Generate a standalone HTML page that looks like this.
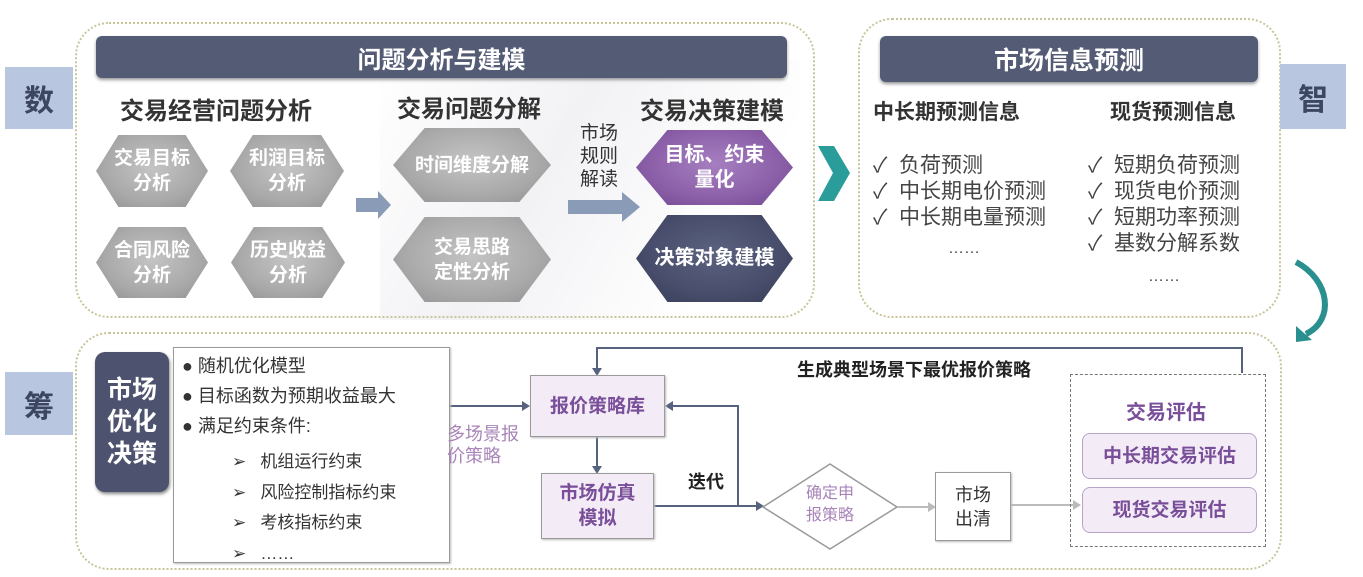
<!DOCTYPE html>
<html><head><meta charset="utf-8"><style>
*{margin:0;padding:0;box-sizing:border-box}
body{width:1363px;height:577px;background:#fff;position:relative;overflow:hidden;font-family:"Liberation Sans","Noto Sans CJK SC",sans-serif;color:#333}
.a{position:absolute}
.c{display:flex;align-items:center;justify-content:center;text-align:center}
.dot{border:2px dotted #c9c59a;border-radius:34px}
.hdr{background:#545b74;color:#fff;font-weight:bold;font-size:24px;border-radius:6px;box-shadow:0 2px 3px #999}
.side{background:#b8c7df;color:#3d4660;font-weight:bold;font-size:30px}
.ttl{font-weight:bold;font-size:24px;color:#333;white-space:nowrap}
.hex{clip-path:polygon(20% 0,80% 0,100% 50%,80% 100%,20% 100%,0 50%);color:#fff;font-weight:bold;font-size:19px;line-height:25px;background:radial-gradient(ellipse at 50% 45%,#c4c4c4 0%,#a9a9a9 60%,#8f8f8f 100%)}
.pu{background:radial-gradient(ellipse at 50% 45%,#a67fc0 0%,#8b5fa8 60%,#6e4690 100%)}
.dk{background:radial-gradient(ellipse at 50% 45%,#5b6280 0%,#474d6a 60%,#363b55 100%)}
.li{font-size:21px;color:#444;white-space:nowrap;line-height:26px}
.box{border:1.5px solid #9a9a9a;box-shadow:1px 1px 2px #bbb}
.pbox{background:#f3ecf7;color:#7a4f9a;font-weight:bold;font-size:19px;line-height:25px}
</style></head><body>
<div class="a" style="left:380px;top:60px;width:420px;height:260px;background:linear-gradient(120deg,#fff 0%,#f2f2f5 40%,#fff 80%)"></div>

<div class="a dot" style="left:75px;top:22px;width:740px;height:296px"></div>
<div class="a hdr c" style="left:96px;top:36px;width:691px;height:42px">问题分析与建模</div>
<div class="a side c" style="left:5px;top:67px;width:68px;height:62px">数</div>
<div class="a ttl" style="left:120px;top:91px">交易经营问题分析</div>
<div class="a ttl" style="left:397px;top:89px">交易问题分解</div>
<div class="a ttl" style="left:640px;top:91px">交易决策建模</div>

<div class="a hex c" style="left:96px;top:135px;width:112px;height:72px">交易目标<br>分析</div>
<div class="a hex c" style="left:230px;top:135px;width:114px;height:72px">利润目标<br>分析</div>
<div class="a hex c" style="left:96px;top:227px;width:112px;height:71px">合同风险<br>分析</div>
<div class="a hex c" style="left:231px;top:227px;width:114px;height:71px">历史收益<br>分析</div>
<div class="a hex c" style="left:393px;top:128px;width:158px;height:74px">时间维度分解</div>
<div class="a hex c" style="left:393px;top:217px;width:158px;height:85px">交易思路<br>定性分析</div>
<div class="a hex pu c" style="left:636px;top:130px;width:157px;height:75px;font-size:20px">目标、约束<br>量化</div>
<div class="a hex dk c" style="left:636px;top:215px;width:157px;height:87px;font-size:20px">决策对象建模</div>
<div class="a" style="left:576px;top:122px;font-size:19px;line-height:23px;color:#333;width:46px;text-align:center">市场<br>规则<br>解读</div>

<svg class="a" style="left:0;top:0" width="1363" height="577">
<polygon points="356,198 378,198 378,191 391,205 378,219 378,212 356,212" fill="#8a9bb8"/>
<polygon points="568,200 622,200 622,192 640,207 622,222 622,214 568,214" fill="#8a9bb8"/>
<polygon points="818,146 834,146 850,173 834,201 818,201 833,173" fill="#2a9d9a"/>
<path d="M1296,262 C1330,280 1335,320 1306,334" stroke="#2a8f8f" stroke-width="6" fill="none"/>
<polygon points="1296,326 1312,340 1296,342" fill="#2a8f8f"/>
<g stroke="#56627e" stroke-width="2" fill="none">
<polyline points="1242,373 1242,348 597,348 597,370"/>
<line x1="450" y1="406" x2="522" y2="406"/>
<line x1="597" y1="437" x2="597" y2="468"/>
<polyline points="654,506 738,506 738,406 672,406"/>
<line x1="738" y1="506" x2="757" y2="506"/>
</g>
<g fill="#56627e">
<polygon points="592,368 602,368 597,376"/>
<polygon points="522,401 530,406 522,411"/>
<polygon points="592,466 602,466 597,474"/>
<polygon points="673,401 665,406 673,411"/>
<polygon points="756,501 764,506 756,511"/>
</g>
<polygon points="830,464 897,507 830,549 763,507" fill="#fff" stroke="#999" stroke-width="1.5"/>
<g stroke="#bbb" stroke-width="2"><line x1="897" y1="507" x2="930" y2="507"/><line x1="1011" y1="505" x2="1075" y2="505"/></g>
<g fill="#bbb"><polygon points="928,502 936,507 928,512"/><polygon points="1073,500 1081,505 1073,510"/></g>
</svg>

<div class="a dot" style="left:858px;top:18px;width:423px;height:300px"></div>
<div class="a hdr c" style="left:880px;top:36px;width:378px;height:46px;font-size:25px">市场信息预测</div>
<div class="a side c" style="left:1280px;top:64px;width:66px;height:65px">智</div>
<div class="a ttl" style="left:873px;top:96px;font-size:21px">中长期预测信息</div>
<div class="a ttl" style="left:1110px;top:96px;font-size:21px">现货预测信息</div>
<div class="a li" style="left:873px;top:153px">✓&nbsp; 负荷预测<br>✓&nbsp; 中长期电价预测<br>✓&nbsp; 中长期电量预测</div>
<div class="a li" style="left:948px;top:236px;font-size:16px">……</div>
<div class="a li" style="left:1088px;top:153px">✓&nbsp; 短期负荷预测<br>✓&nbsp; 现货电价预测<br>✓&nbsp; 短期功率预测<br>✓&nbsp; 基数分解系数</div>
<div class="a li" style="left:1148px;top:264px;font-size:16px">……</div>

<div class="a dot" style="left:75px;top:332px;width:1207px;height:238px"></div>
<div class="a side c" style="left:5px;top:372px;width:68px;height:63px">筹</div>
<div class="a c" style="left:95px;top:352px;width:74px;height:140px;background:#4d536e;border-radius:10px;color:#fff;font-weight:bold;font-size:25px;line-height:32px;box-shadow:1px 2px 3px #888">市场<br>优化<br>决策</div>
<div class="a box" style="left:173px;top:347px;width:277px;height:216px;background:#fff"></div>
<div class="a" style="left:182px;top:351px;font-size:18px;color:#333;line-height:30px">● 随机优化模型<br>● 目标函数为预期收益最大<br>● 满足约束条件:</div>
<div class="a" style="left:232px;top:447px;font-size:17px;color:#333;line-height:30.5px">➢&nbsp;&nbsp; 机组运行约束<br>➢&nbsp;&nbsp; 风险控制指标约束<br>➢&nbsp;&nbsp; 考核指标约束<br>➢&nbsp;&nbsp; ……</div>
<div class="a" style="left:447px;top:423px;font-size:18px;line-height:22px;color:#a884b8;width:82px">多场景报<br>价策略</div>
<div class="a box pbox c" style="left:530px;top:375px;width:135px;height:62px">报价策略库</div>
<div class="a box pbox c" style="left:541px;top:473px;width:113px;height:66px">市场仿真<br>模拟</div>
<div class="a" style="left:688px;top:468px;font-weight:bold;font-size:18px;color:#222">迭代</div>
<div class="a c" style="left:800px;top:483px;width:60px;font-size:16px;line-height:22px;color:#a884b8">确定申<br>报策略</div>
<div class="a box c" style="left:935px;top:472px;width:76px;height:69px;font-size:18px;line-height:24px;color:#333;background:#fff">市场<br>出清</div>
<div class="a" style="left:797px;top:356px;font-weight:bold;font-size:18px;color:#222">生成典型场景下最优报价策略</div>
<div class="a" style="left:1070px;top:374px;width:196px;height:173px;border:1.5px dashed #777"></div>
<div class="a" style="left:1126px;top:396px;font-weight:bold;font-size:20px;color:#7a4f9a">交易评估</div>
<div class="a pbox c" style="left:1082px;top:433px;width:175px;height:46px;border:1.5px solid #b9a3c9;border-radius:8px">中长期交易评估</div>
<div class="a pbox c" style="left:1082px;top:487px;width:175px;height:46px;border:1.5px solid #b9a3c9;border-radius:8px">现货交易评估</div>
</body></html>
